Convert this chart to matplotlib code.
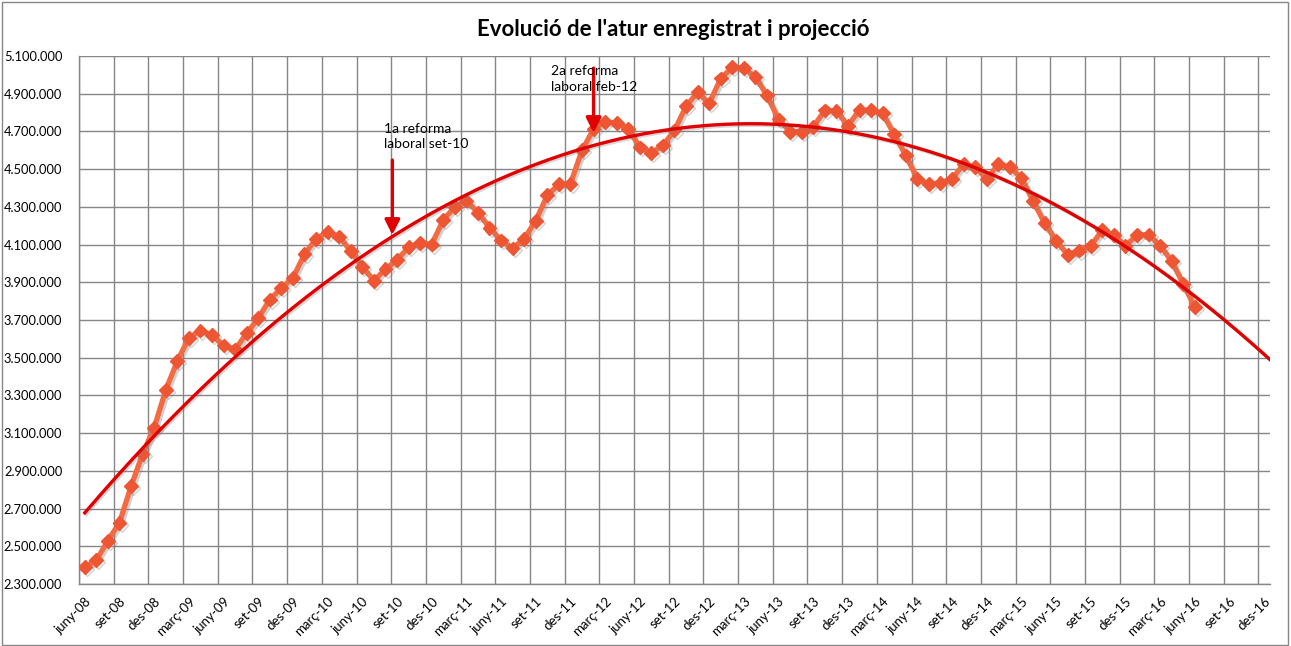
import matplotlib
matplotlib.use("Agg")
import matplotlib.pyplot as plt
import matplotlib.patheffects as pe
import numpy as np

months = ["gen", "feb", "març", "abr", "maig", "juny", "jul", "ag", "set", "oct", "nov", "des"]

# Monthly registered unemployment, juny-08 .. juny-16
atur = [
    2390401, 2426202, 2530001, 2625368, 2818026, 2989269, 3128963,          # jun-dec 2008
    3327801, 3481859, 3605402, 3644041, 3620139, 3564889, 3544105, 3629080, 3709447, 3808353, 3868946, 3923603,  # 2009
    4048493, 4130625, 4166613, 4142425, 4066202, 3982368, 3908379, 3969661, 4017763, 4085976, 4110294, 4100073,  # 2010
    4231003, 4299263, 4333669, 4269360, 4189659, 4121801, 4079742, 4130927, 4226744, 4360926, 4420462, 4422359,  # 2011
    4599829, 4712098, 4750867, 4744235, 4714122, 4615269, 4587455, 4625634, 4705279, 4833521, 4907817, 4848723,  # 2012
    4980778, 5040222, 5035243, 4989193, 4890928, 4763680, 4698814, 4698807, 4724355, 4811383, 4808908, 4730000,  # 2013
    4814435, 4812486, 4795866, 4684301, 4572385, 4449701, 4419860, 4427930, 4447650, 4526804, 4512153, 4447711,  # 2014
    4525691, 4512116, 4451939, 4333016, 4215031, 4120304, 4046276, 4067955, 4094042, 4176369, 4149298, 4093508,  # 2015
    4150755, 4152986, 4094770, 4011171, 3891403, 3767054,                                                      # 2016
]

n_cat = 103  # juny-08 .. des-16
cat_labels = []
m, yr = 5, 8
for i in range(n_cat):
    cat_labels.append(f"{months[m]}-{yr:02d}")
    m += 1
    if m == 12:
        m = 0
        yr += 1

annot1 = ("1a reforma\nlaboral set-10", 27)
annot2 = ("2a reforma\nlaboral feb-12", 44)

fig = plt.figure(figsize=(12.91, 6.46), dpi=100)
ax = fig.add_axes([79/1291, 1-584/646, (1270-79)/1291, (584-56)/646])

x = np.arange(len(atur))
y = np.array(atur, dtype=float)

# Polynomial (order 2) trendline with forward projection
c2 = np.polyfit(x + 1, y, 2)
xt = np.linspace(0, n_cat - 0.5, 400)
tshadow = [pe.SimpleLineShadow(offset=(1.2, -1.2), shadow_color="gray", alpha=0.3), pe.Normal()]
ax.plot(xt, np.polyval(c2, xt + 1), color="#E00000", lw=2.4, zorder=4, path_effects=tshadow)

shadow = [pe.SimpleLineShadow(offset=(1.5, -1.5), shadow_color="gray", alpha=0.35), pe.Normal()]
ax.plot(x, y, color="#F26B43", lw=3.8, marker="D", markersize=7, markerfacecolor="#EE5533",
        markeredgecolor="#EE5533", zorder=3, path_effects=shadow)

ax.set_xlim(-0.5, n_cat - 0.5)
ax.set_ylim(2300000, 5100000)
yt = np.arange(2300000, 5100001, 200000)
ax.set_yticks(yt)
ax.set_yticklabels([f"{v:,}".replace(",", ".") for v in yt], fontsize=9.3, family="Lato")
ax.set_xticks(np.arange(-0.5, n_cat, 3), minor=False)
ax.set_xticklabels([])
ax.set_xticks(np.arange(0, n_cat, 3), minor=True)
ax.set_xticklabels([cat_labels[i] for i in range(0, n_cat, 3)], minor=True, rotation=45,
                   ha="right", va="top", rotation_mode="anchor", fontsize=9.5, family="Lato")
ax.tick_params(axis="both", which="both", length=0)
ax.tick_params(axis="y", pad=12)
ax.tick_params(axis="x", which="minor", pad=8)
ax.grid(True, which="major", color="#868686", lw=1.0)
ax.set_axisbelow(True)
for s in ["top", "right"]:
    ax.spines[s].set_visible(False)
for s in ["left", "bottom"]:
    ax.spines[s].set_color("#868686")
    ax.spines[s].set_linewidth(1.0)

def reform(text, idx, dx_arrow, y_from, y_to, dx_text, y_text):
    ax.annotate("", xy=(idx + dx_arrow, y_to), xytext=(idx + dx_arrow, y_from),
                arrowprops=dict(arrowstyle="-|>,head_length=0.9,head_width=0.45",
                                color="#E00000", lw=2.4, shrinkA=0, shrinkB=0),
                zorder=6)
    ax.text(idx + dx_text, y_text, text, fontsize=10, family="Lato", va="top", ha="left",
            linespacing=1.35, zorder=7)

reform(*annot1, -0.4, 4548000, 4151000, -1.1, 4745000)
reform(*annot2, 0.0, 5036000, 4692000, -3.7, 5052000)

fig.text(673/1291, 1-29/646, "Evolució de l'atur enregistrat i projecció", ha="center", va="center",
         fontsize=16, fontweight="bold", family="Lato")

border = plt.Rectangle((2/1291, 1/646), 1286/1291, 643/646, transform=fig.transFigure,
                       fill=False, edgecolor="#868686", lw=1.0)
fig.patches.append(border)

fig.savefig("out.png", dpi=100)
